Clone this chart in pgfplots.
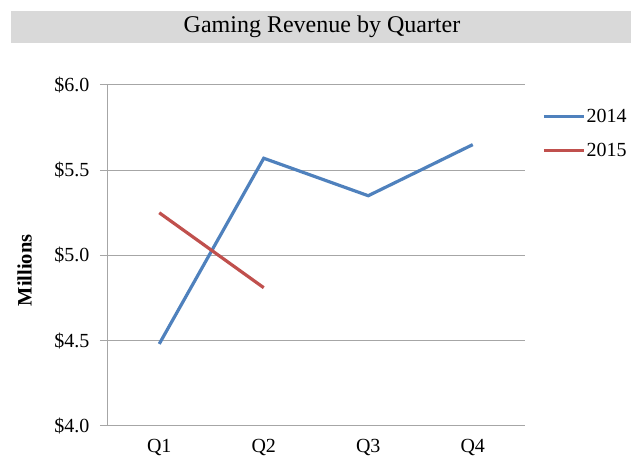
\documentclass[border=0pt]{standalone}
\usepackage{fontspec}
\setmainfont{Liberation Serif}
\usepackage{pgfplots}
\pgfplotsset{compat=1.18}
\definecolor{blue14}{HTML}{4F81BD}
\definecolor{red15}{HTML}{C0504D}
\definecolor{gridgray}{HTML}{A6A6A6}
\definecolor{banner}{HTML}{D9D9D9}
\begin{document}
\begin{tikzpicture}
\path[use as bounding box] (0,0) rectangle (631bp,459bp);
% title banner
\fill[banner] (11bp,416bp) rectangle (631bp,448bp);
\node[font=\fontsize{24bp}{28bp}\selectfont] at (322bp,432bp) {Gaming Revenue by Quarter};
\begin{axis}[
    at={(107bp,33.3bp)}, anchor=south west,
    scale only axis,
    width=418bp, height=340.7bp,
    xmin=0.5, xmax=4.5, ymin=4, ymax=6,
    axis x line*=bottom, axis y line*=left,
    axis line style={gridgray, line width=1bp},
    xtick={1,2,3,4},
    xticklabels={Q1,Q2,Q3,Q4},
    minor xtick={0.5,1.5,2.5,3.5,4.5},
    ytick={4,4.5,5,5.5,6},
    yticklabels={\$4.0,\$4.5,\$5.0,\$5.5,\$6.0},
    tick align=outside,
    major tick length=7bp, minor tick length=7bp,
    xtick style={draw=none},
    minor tick style={gridgray, line width=1bp},
    ytick style={gridgray, line width=1bp},
    ymajorgrids,
    major grid style={gridgray, line width=1bp},
    tick label style={font=\fontsize{20bp}{24bp}\selectfont},
    xticklabel style={yshift=-5bp, inner sep=1bp},
    yticklabel style={xshift=-7bp},
    ylabel={\textbf{Millions}},
    ylabel style={font=\fontsize{20.5bp}{24bp}\selectfont, at={(axis description cs:-0.197,0.456)}, anchor=center},
    legend style={draw=none, fill=none, at={(axis description cs:1.041,0.858)}, anchor=west,
        inner sep=0pt, row sep=17bp, font=\fontsize{20bp}{24bp}\selectfont,
        nodes={inner sep=1bp}},
    legend cell align=left,
    legend image code/.code={\draw[#1] (0bp,0bp) -- (40bp,0bp);},
    clip=false,
]
\addplot[blue14, line width=3.2bp] coordinates {(1,4.48) (2,5.57) (3,5.35) (4,5.65)};
\addplot[red15, line width=3.2bp] coordinates {(1,5.25) (2,4.81)};
\legend{2014,2015}
\end{axis}
\end{tikzpicture}
\end{document}
